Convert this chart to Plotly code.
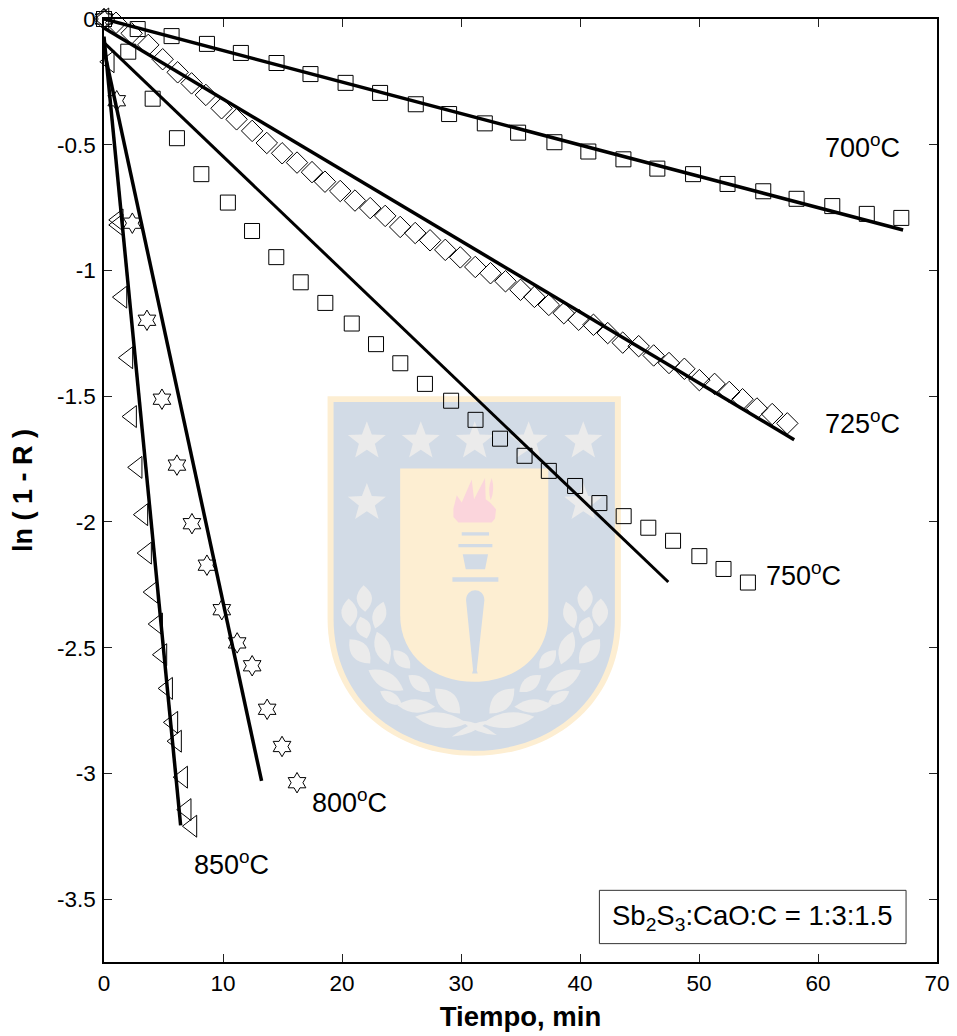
import math
import plotly.graph_objects as go

# ---- data ----
t_700 = [0, 2.83, 5.68, 8.65, 11.5, 14.5, 17.35, 20.3, 23.2, 26.2, 29.0, 32.0, 34.8, 37.85, 40.7, 43.65, 46.5, 49.5, 52.4, 55.4, 58.2, 61.2, 64.1, 67.0]
y_700 = [0, -.040, -.068, -.099, -.135, -.175, -.219, -.254, -.294, -.339, -.378, -.415, -.452, -.490, -.527, -.558, -.595, -.617, -.656, -.685, -.715, -.744, -.775, -.791]

t_725 = [0, 1.01, 2.32, 3.72, 4.93, 6.19, 7.36, 8.56, 9.88, 11.14, 12.45, 13.68, 14.97, 16.22, 17.48, 18.57, 19.85, 21.09, 22.37, 23.63, 24.89, 26.15, 27.40, 28.68, 29.94, 31.2, 32.48, 33.74, 35.0, 36.17, 37.38, 38.64, 39.89, 41.13, 42.33, 43.59, 44.93, 46.19, 47.48, 48.77, 50.03, 51.31, 52.54, 53.66, 54.87, 56.15, 57.42]
y_725 = [0, -.015, -.057, -.103, -.160, -.212, -.256, -.302, -.355, -.399, -.445, -.493, -.534, -.571, -.609, -.647, -.684, -.722, -.752, -.783, -.827, -.851, -.880, -.918, -.948, -.986, -1.011, -1.043, -1.077, -1.105, -1.137, -1.170, -1.196, -1.216, -1.249, -1.287, -1.301, -1.338, -1.368, -1.391, -1.436, -1.451, -1.483, -1.512, -1.549, -1.571, -1.608]

t_750 = [0, 2.04, 4.09, 6.13, 8.18, 10.41, 12.44, 14.48, 16.53, 18.6, 20.82, 22.86, 24.9, 26.97, 29.17, 31.22, 33.28, 35.34, 37.38, 39.59, 41.63, 43.67, 45.74, 47.82, 50.03, 52.06, 54.11]
y_750 = [0, -.130, -.317, -.474, -.617, -.730, -.843, -.947, -1.047, -1.129, -1.211, -1.293, -1.369, -1.451, -1.518, -1.594, -1.669, -1.737, -1.797, -1.857, -1.925, -1.977, -2.023, -2.075, -2.136, -2.187, -2.241]

t_800 = [0, 1.07, 2.38, 3.61, 4.87, 6.13, 7.39, 8.65, 9.90, 11.19, 12.45, 13.71, 14.96, 16.22]
y_800 = [0, -.325, -.812, -1.198, -1.512, -1.774, -2.007, -2.172, -2.349, -2.481, -2.572, -2.745, -2.893, -3.037]

t_850 = [0, .445, 1.20, 1.20, 1.51, 2.01, 2.32, 2.79, 3.27, 3.58, 4.09, 4.51, 4.87, 5.35, 5.79, 6.10, 6.61, 6.91, 7.39]
y_850 = [0, -.170, -.799, -.819, -1.106, -1.347, -1.581, -1.783, -1.971, -2.124, -2.279, -2.406, -2.528, -2.662, -2.797, -2.872, -3.015, -3.144, -3.21]

fit_t_700 = [0, 19.2, 41.6, 67.15]
fit_y_700 = [0, -.242, -.521, -.839]
fit_t_725 = [0, 31.56, 58.0]
fit_y_725 = [-.036, -.925, -1.673]
fit_t_750 = [0, 31.56, 47.42]
fit_y_750 = [-.094, -1.521, -2.239]
fit_t_800 = [0, 2.54, 9.46, 13.24]
fit_y_800 = [-.122, -.680, -2.19, -3.03]
fit_t_850 = [0, 1.26, 6.44]
fit_y_850 = [-.07, -.684, -3.207]

x_ticks = [0, 10, 20, 30, 40, 50, 60, 70]
x_labels = ["0", "10", "20", "30", "40", "50", "60", "70"]
y_ticks = [0, -.5, -1, -1.5, -2, -2.5, -3, -3.5]
y_labels = ["0", "-0.5", "-1", "-1.5", "-2", "-2.5", "-3", "-3.5"]

temp_labels = ["700<sup>o</sup>C", "725<sup>o</sup>C", "750<sup>o</sup>C", "800<sup>o</sup>C", "850<sup>o</sup>C"]
temp_x = [60.42, 60.42, 55.43, 17.3, 7.38]
temp_y = [-.505, -1.602, -2.207, -3.108, -3.358]
box_text = "Sb<sub>2</sub>S<sub>3</sub>:CaO:C = 1:3:1.5"

# ---- page geometry ----
FONT = "Liberation Sans, Arial, sans-serif"
W, H = 957, 1036
L, R, T, B = 103.5, 937.5, 18.5, 962  # plot frame in window pixels

# ---- watermark crest (background decoration), in paper coordinates ----
def fx(px):
    return (px - L) / (R - L)
def fy(py):
    return (B - py) / (B - T)
def zx(z):
    return fx(320 + z / 3)
def zy(z):
    return fy(385 + z / 3)
def P(x, y):
    return f"{zx(x):.5f},{zy(y):.5f}"

BLUE, CREAM, LEAF, PINK = "#d2dbe6", "#fdeed2", "#ebebeb", "#fbd5dc"
shapes = []
def add_path(d, color):
    shapes.append(dict(type="path", path=d, xref="paper", yref="paper", layer="below",
                       fillcolor=color, line=dict(width=0)))

def shield(x0, x1, top, side, bot):
    mid = (x0 + x1) / 2
    return (f"M{P(x0, top)}L{P(x1, top)}L{P(x1, side)}"
            f"C{P(x1, side + (bot - side) * .62)} {P(mid + (x1 - x0) * .27, bot)} {P(mid, bot)}"
            f"C{P(mid - (x1 - x0) * .27, bot)} {P(x0, side + (bot - side) * .62)} {P(x0, side)}Z")

add_path(shield(22, 903, 33, 700, 1112), CREAM)
add_path(shield(40, 885, 50, 700, 1097), BLUE)
add_path(shield(240, 685, 250, 690, 890), CREAM)

def star(cx, cy, r=60):
    pts = []
    for i in range(10):
        rad = r if i % 2 == 0 else r * .42
        a = math.pi * i / 5
        pts.append(P(cx + rad * math.sin(a), cy - rad * math.cos(a)))
    return "M" + "L".join(pts) + "Z"

for cx in (140, 302, 464, 626, 790):
    add_path(star(cx, 168), LEAF)
for cx in (140, 790):
    add_path(star(cx, 353), LEAF)

def lens(a, b, w):
    mx, my = (a[0] + b[0]) / 2, (a[1] + b[1]) / 2
    dx, dy = b[0] - a[0], b[1] - a[1]
    n = math.hypot(dx, dy)
    ox, oy = -dy / n * w, dx / n * w
    return f"M{P(*a)}Q{P(mx + ox, my + oy)} {P(*b)}Q{P(mx - ox, my - oy)} {P(*a)}Z"

leaves = [((90, 725), (85, 640), 48), ((135, 680), (130, 600), 46), ((165, 730), (190, 650), 40),
          ((140, 760), (120, 695), 44), ((150, 835), (88, 762), 52), ((205, 838), (170, 740), 46),
          ((270, 850), (220, 795), 40), ((250, 915), (145, 855), 48), ((330, 920), (265, 870), 40),
          ((245, 958), (180, 918), 32), ((345, 965), (232, 960), 40), ((420, 985), (345, 910), 54),
          ((440, 1015), (285, 995), 46)]
for a, b, w in leaves:
    add_path(lens(a, b, w), LEAF)
    add_path(lens((928 - a[0], a[1]), (928 - b[0], b[1]), w), LEAF)
add_path(lens((395, 1055), (510, 1005), 20), LEAF)
add_path(lens((530, 1050), (420, 1005), 20), LEAF)

# flame
add_path("M" + "L".join(P(*p) for p in [(400, 370), (410, 330), (425, 352), (455, 283), (462, 342), (495, 278),
                                        (497, 342), (510, 352), (528, 372), (525, 400), (515, 412),
                                        (415, 412), (400, 395)]) + "Z", PINK)
add_path(lens((512, 345), (515, 278), 12), PINK)
# torch
for pts in ([(425, 441), (507, 441), (507, 451), (425, 451)],
            [(415, 476), (517, 476), (517, 486), (415, 486)],
            [(428, 507), (504, 507), (495, 552), (437, 552)],
            [(397, 576), (535, 576), (535, 590), (397, 590)]):
    add_path("M" + "L".join(P(*p) for p in pts) + "Z", BLUE)
add_path(f"M{P(438, 645)}C{P(438, 605)} {P(493, 605)} {P(493, 645)}L{P(470, 855)}"
         f"L{P(473, 865)}L{P(456, 865)}L{P(459, 855)}Z", BLUE)

# text box frame
shapes.append(dict(type="rect", xref="x", yref="y", x0=41.63, x1=67.4, y0=-3.677, y1=-3.465,
                   line=dict(color="#333333", width=1), layer="above"))

# ---- traces ----
fig = go.Figure()
def markers(x, y, sym, size):
    fig.add_trace(go.Scatter(x=x, y=y, mode="markers", cliponaxis=False,
                             marker=dict(symbol=sym, size=size, color="black",
                                         line=dict(color="black", width=1))))
markers(t_700, y_700, "square-open", 15)
markers(t_725, y_725, "diamond-open", 16.5)
markers(t_750, y_750, "square-open", 15)
markers(t_800, y_800, "hexagram-open", 15.5)
markers(t_850, y_850, "triangle-left-open", 19)
for x, y, w in ((fit_t_700, fit_y_700, 3.5), (fit_t_725, fit_y_725, 3.5), (fit_t_750, fit_y_750, 3),
                (fit_t_800, fit_y_800, 3.5), (fit_t_850, fit_y_850, 3.5)):
    fig.add_trace(go.Scatter(x=x, y=y, mode="lines", cliponaxis=False,
                             line=dict(color="black", width=w)))

annotations = [dict(x=x, y=y, text=s, xref="x", yref="y", showarrow=False, xanchor="left",
                    font=dict(family=FONT, size=27, color="black"))
               for x, y, s in zip(temp_x, temp_y, temp_labels)]
annotations.append(dict(x=54.5, y=-3.573, text=box_text, xref="x", yref="y", showarrow=False,
                        font=dict(family=FONT, size=27.5, color="black")))

axis = dict(showgrid=False, zeroline=False, showline=True, linecolor="black", linewidth=1.5,
            mirror="ticks", ticks="inside", ticklen=8, tickwidth=1, tickcolor="#222222",
            ticklabeloverflow="allow", tickfont=dict(family=FONT, size=22.5, color="black"))
fig.update_layout(
    width=W, height=H, showlegend=False, paper_bgcolor="white", plot_bgcolor="white",
    margin=dict(l=L, r=W - R, t=T, b=H - B, autoexpand=False),
    shapes=shapes, annotations=annotations,
    xaxis=dict(axis, range=[0, 70], tickmode="array", tickvals=x_ticks, ticktext=x_labels,
               ticklabelstandoff=0,
               title=dict(text="<b>Tiempo, min</b>", standoff=12,
                          font=dict(family=FONT, size=27.5, color="black"))),
    yaxis=dict(axis, range=[-3.75, 0], tickmode="array", tickvals=y_ticks, ticktext=y_labels,
               ticklabelstandoff=2,
               title=dict(text="<b>ln ( 1 - R )</b>", standoff=17,
                          font=dict(family=FONT, size=27, color="black"))),
)
fig.write_html("out.html", config={"displayModeBar": False},
               post_script="document.documentElement.style.margin='0';document.body.style.margin='0';")
